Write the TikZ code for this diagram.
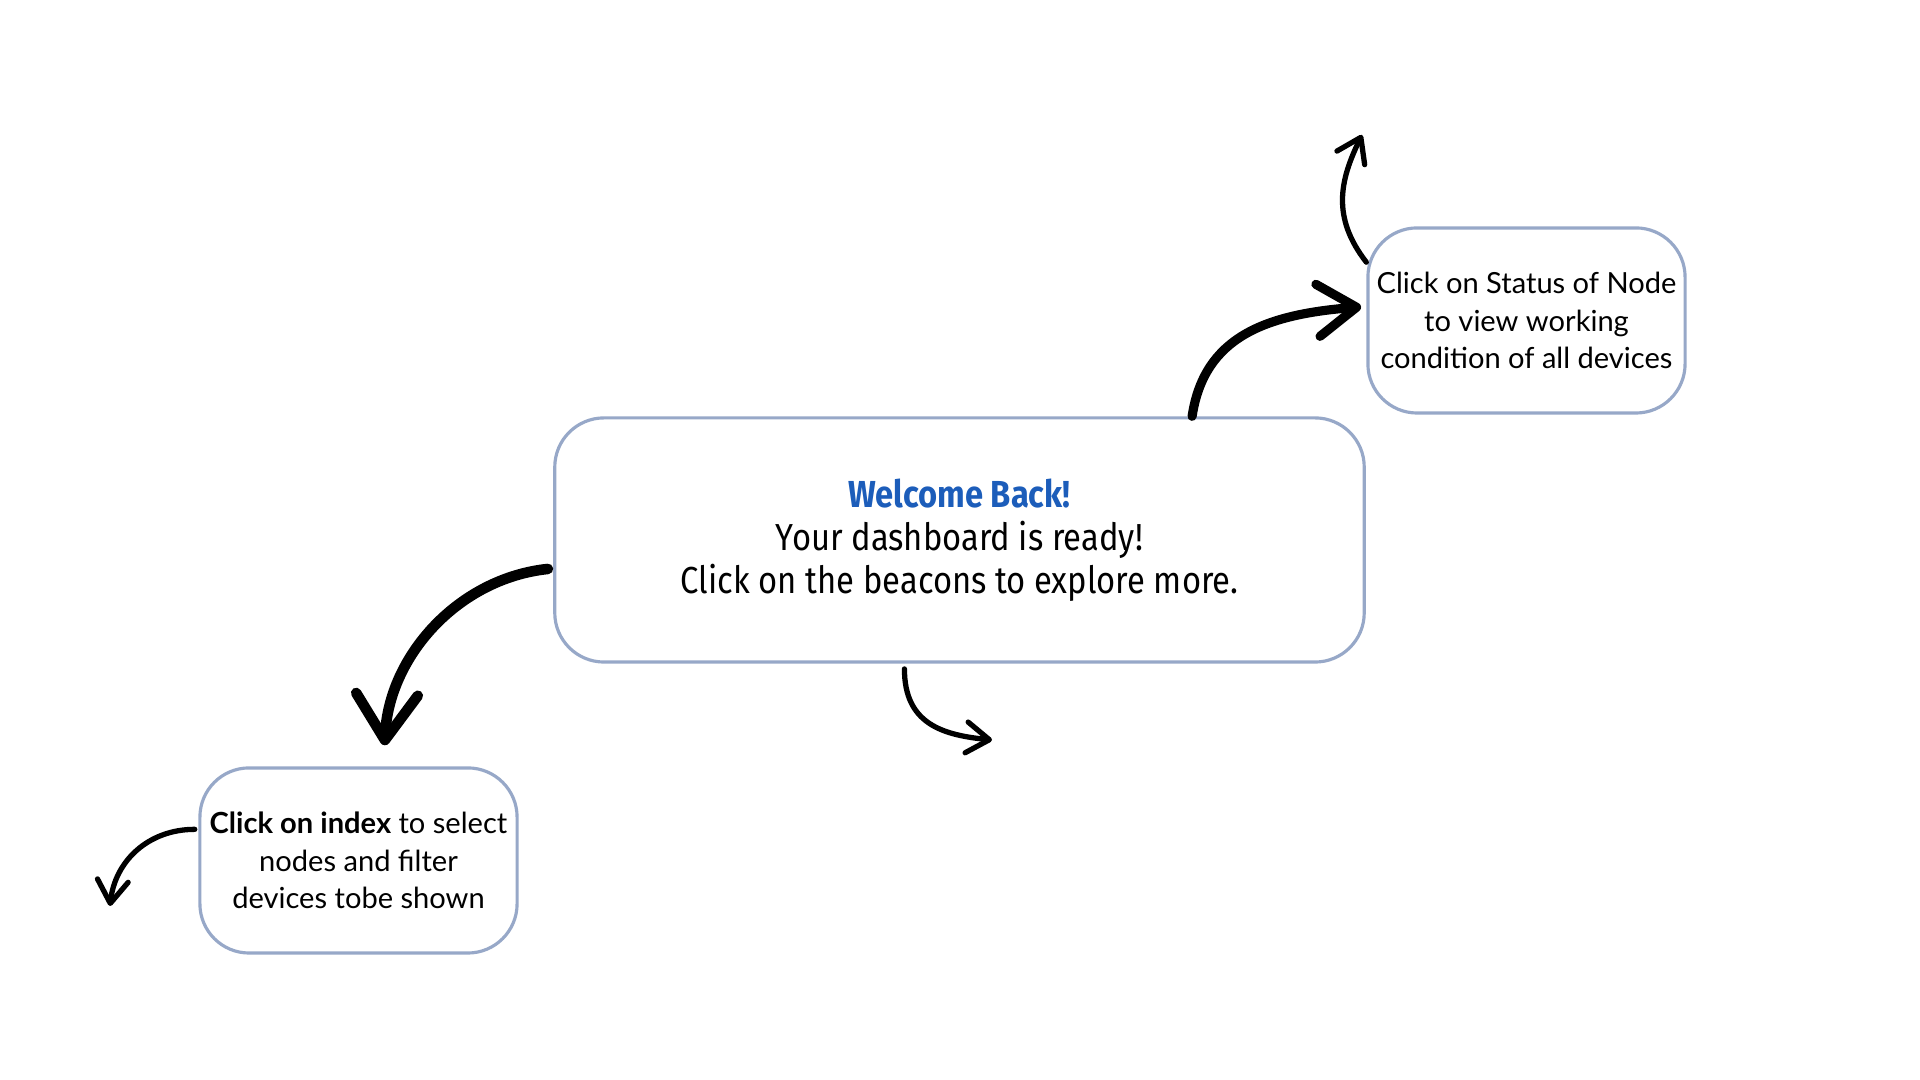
\documentclass[tikz,border=0pt]{standalone}
\usepackage{fontspec}
\usetikzlibrary{arrows.meta}
\newfontfamily\condfont[FakeStretch=0.87]{Fira Sans}
\newfontfamily\boxfont{Lato}
\definecolor{boxline}{HTML}{97A8C8}
\definecolor{welcome}{HTML}{1C5DBA}
\begin{document}
\begin{tikzpicture}[x=0.01cm,y=0.01cm,
  box/.style={draw=boxline, line width=0.9pt, fill=white, align=center,
    inner sep=0pt, rounded corners=14pt},
  smallbox/.style={box, minimum width=3.17cm, minimum height=1.85cm,
    font=\boxfont\fontsize{8.27}{10.6}\selectfont},
  hand/.style={line width=#1, line cap=round, draw=black},
  bigtip/.style={-{Straight Barb[length=#1,width=1.35*#1,round]}}
]
\useasboundingbox (0,0) rectangle (1920,1080);
\fill[white] (0,0) rectangle (1920,1080);

\node[box, minimum width=8.09cm, minimum height=2.44cm,
  font=\condfont\fontsize{10.7}{12.2}\selectfont] (main) at (959.5,540)
  {{\bfseries\color{welcome}Welcome Back!}\\Your dashboard is ready!\\Click on the beacons to explore more.};

\node[smallbox] (status) at (1526.5,759.5)
  {Click on Status of Node\\to view working\\condition of all devices};

\node[smallbox] (index) at (358.5,219.5)
  {\textbf{Click on index} to select\\nodes and filter\\devices tobe shown};

\coordinate (t2) at (1362,945);
\coordinate (t4) at (992,340);
\coordinate (t5) at (110,174);

% main -> status
\draw[hand=2.6pt, bigtip=11pt, shorten >=1.5pt] (main.28) .. controls +(12,80) and +(-100,-8) .. (status.175);
% status -> up
\draw[hand=1.5pt, bigtip=6.5pt] (status.160) .. controls +(-35,45) and +(-22,-45) .. (t2);
% main -> index
\draw[hand=3pt, bigtip=13pt, shorten <=1.5pt, shorten >=6pt] (main.184) .. controls +(-95,-10) and +(5,110) .. (index.75);
% main -> down right
\draw[hand=1.5pt, bigtip=6.5pt, shorten <=1.5pt] (main.246) .. controls +(0,-60) and +(-50,5) .. (t4);
% index -> down left
\draw[hand=1.5pt, bigtip=6.5pt, shorten <=1pt] (index.169) .. controls +(-50,0) and +(5,45) .. (t5);
\end{tikzpicture}
\end{document}
